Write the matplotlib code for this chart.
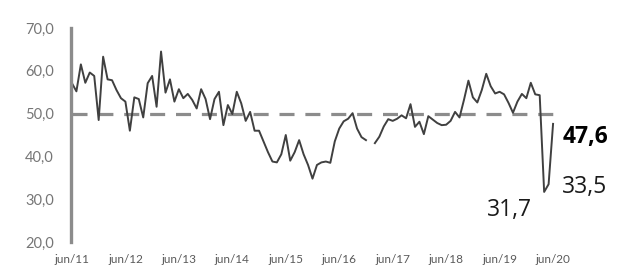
import numpy as np, matplotlib
matplotlib.use('Agg')
import matplotlib.pyplot as plt

plt.rcParams.update({'font.family': ['Lato', 'DejaVu Sans']})

# monthly index values, jun/11 .. jun/20 (jan/17 missing)
values = [57.1, 55.2, 61.5, 57.2, 59.6, 58.8, 48.5, 63.3, 58.0, 57.8, 55.5, 53.6,
          52.8, 46.0, 53.8, 53.4, 49.1, 57.1, 58.8, 51.6, 64.5, 54.9, 58.0, 52.8,
          55.7, 53.6, 54.6, 53.2, 51.2, 55.7, 53.4, 48.7, 53.4, 55.1, 47.3, 52.0,
          49.9, 55.1, 52.4, 48.3, 50.4, 46.0, 46.0, 43.5, 41.0, 38.8, 38.6, 40.5,
          45.0, 39.0, 41.0, 43.8, 40.5, 38.0, 34.8, 38.0, 38.6, 38.8, 38.5, 43.5,
          46.5, 48.2, 48.8, 50.1, 46.5, 44.5, 43.8, np.nan, 43.1, 44.6, 47.0, 48.7,
          48.3, 48.8, 49.6, 48.9, 52.2, 46.9, 48.1, 45.2, 49.4, 48.6, 47.8, 47.3,
          47.4, 48.3, 50.4, 49.1, 53.2, 57.7, 53.8, 52.6, 55.5, 59.3, 56.4, 54.7,
          55.1, 54.5, 52.5, 50.2, 52.8, 54.6, 53.6, 57.2, 54.5, 54.3, 31.7, 33.5,
          47.6]
threshold = 50.0
xlabels = ['jun/11', 'jun/12', 'jun/13', 'jun/14', 'jun/15',
           'jun/16', 'jun/17', 'jun/18', 'jun/19', 'jun/20']
yticks = [20, 30, 40, 50, 60, 70]
callouts = [(108, '47,6', 'bold', (6.7, -9.1), 'left'),
            (107, '33,5', 'normal', (9.9, -1.8), 'left'),
            (106, '31,7', 'normal', (-24.7, -13.0), 'center')]

x = np.arange(len(values))
fig = plt.figure(figsize=(6.26, 2.74), dpi=100, facecolor='white')
ax = fig.add_axes([0.1128, 0.1168, 0.7778, 0.781])

dl, = ax.plot([x[0], x[-1]], [threshold, threshold], color='#8c8c8c', lw=2.3)
dl.set_dashes((4.7, 3.4))
ax.plot(x, values, color='#404040', lw=1.4)

for i, txt, w, off, ha in callouts:
    ax.annotate(txt, (x[i], values[i]), xytext=off, textcoords='offset points',
                ha=ha, va='center', fontsize=16.5, fontweight=w,
                color='black' if w == 'bold' else '#1a1a1a',
                family=['Open Sans', 'DejaVu Sans'])

ax.set_xlim(-0.3, 109)
ax.set_ylim(20, 70)
ax.set_xticks(x[::12][:len(xlabels)])
ax.set_xticklabels(xlabels)
ax.set_yticks(yticks)
ax.set_yticklabels([f'{v:.1f}'.replace('.', ',') for v in yticks])
ax.tick_params(axis='y', length=0, pad=12, labelsize=10.5, labelcolor='#767676')
ax.tick_params(axis='x', length=0, pad=9, labelsize=8.5, labelcolor='#5a5a5a')
for s in ['top', 'right', 'bottom']:
    ax.spines[s].set_visible(False)
ax.spines['left'].set_color('#8c8c8c')
ax.spines['left'].set_linewidth(2.4)

fig.savefig('out.png', dpi=100, facecolor='white')
